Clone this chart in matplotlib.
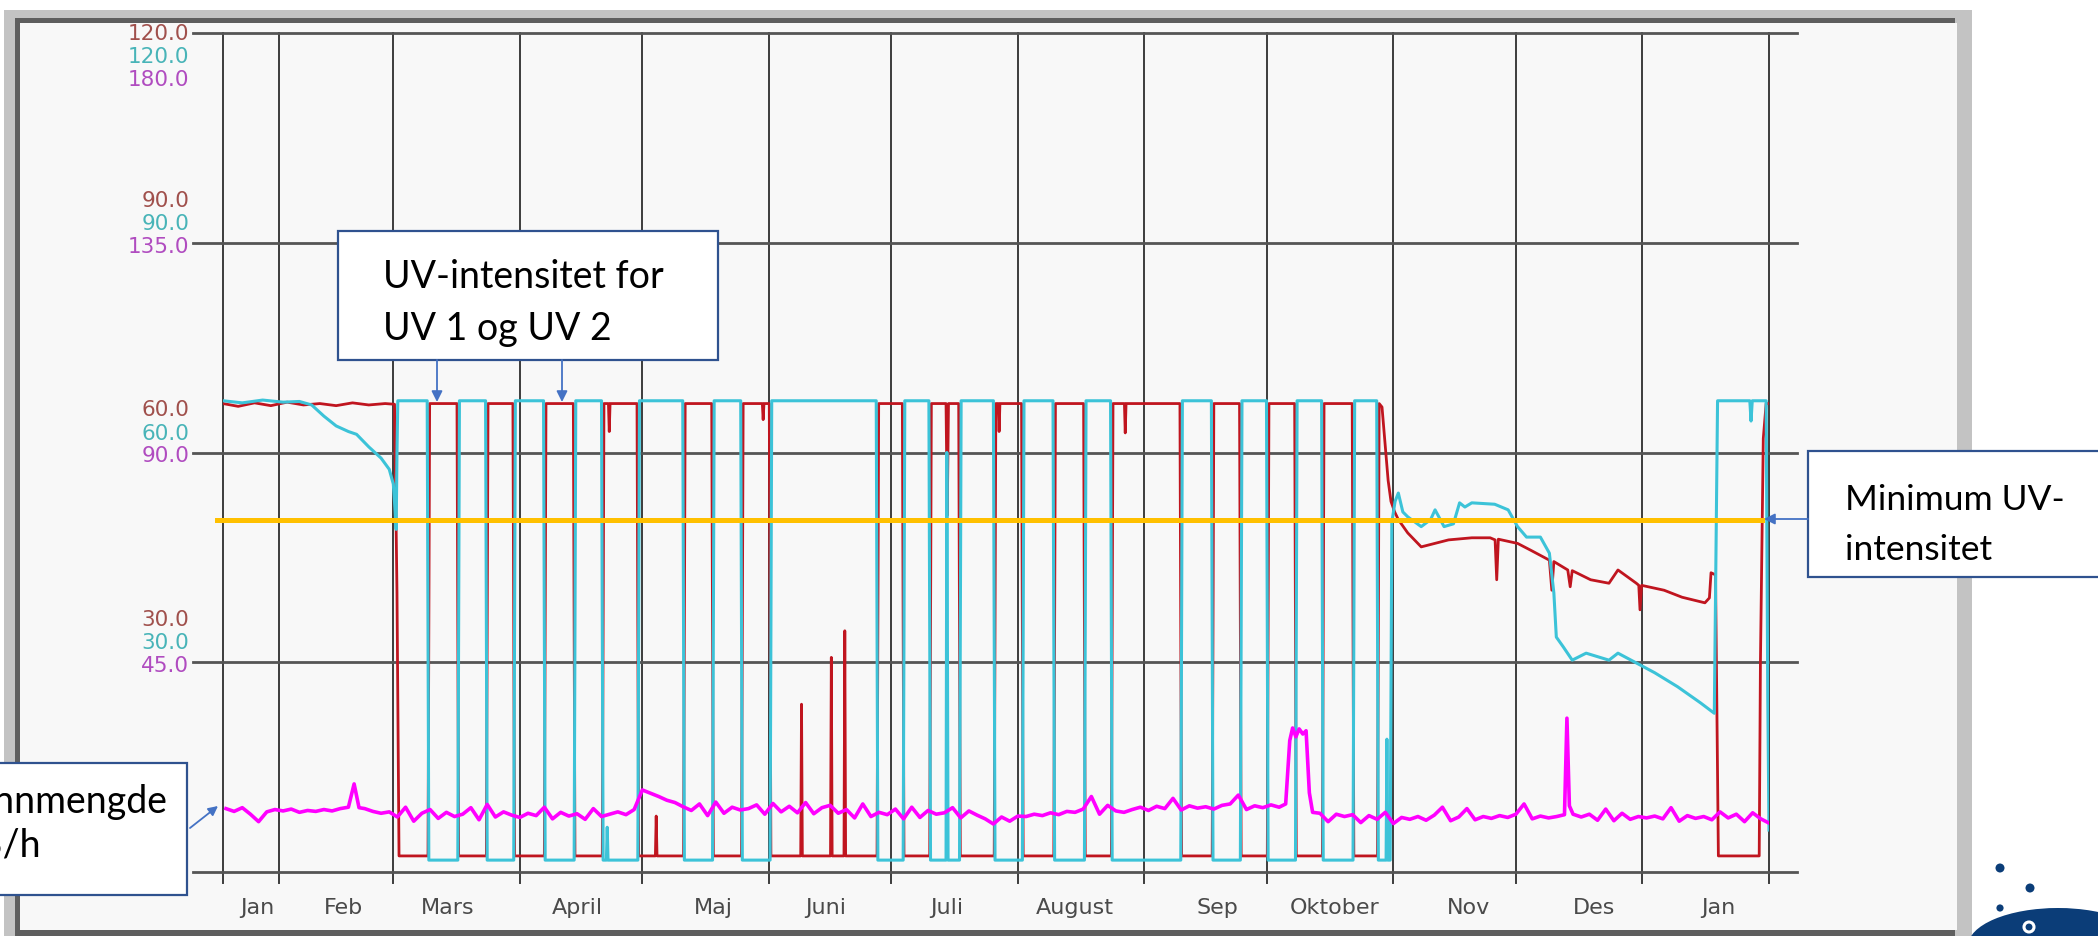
import matplotlib.pyplot as plt
from matplotlib.patches import Rectangle, Ellipse, Circle
from matplotlib.transforms import blended_transform_factory

# x = day number counted from 1 Jan (year 1), axis runs to 1 Feb (year 2)
x_start, x_end = 17.28, 396
month_lines = [17.28, 31, 59, 90, 120, 151, 181, 212, 243, 273, 304, 334, 365, 396]
month_names = ['Jan', 'Feb', 'Mars', 'April', 'Maj', 'Juni', 'Juli', 'August',
               'Sep', 'Oktober', 'Nov', 'Des', 'Jan']
month_label_pos = [25.6, 46.9, 72.4, 104.0, 137.3, 164.8, 194.6, 226.0,
                   261.0, 289.7, 322.3, 353.2, 383.5]

uv_levels = [0, 30, 60, 90, 120]          # UV 1 and UV 2 scale
flow_levels = [0, 45, 90, 135, 180]       # flow scale
min_uv = 50.4                             # orange limit line

# UV 1 (red)
red_day = [17.3, 21, 25, 29, 33, 37, 41, 45, 49, 53, 57, 59.3, 59.9, 60.4,
           67.5, 67.9, 74.6, 75.0, 81.8, 82.2, 88.3, 88.7, 96.0, 96.4, 103.1, 103.5,
           110.2, 110.6, 111.7, 111.9, 112.1, 118.7, 119.1, 123.2, 123.4, 123.6,
           130.1, 130.5, 137.0, 137.4, 144.3, 144.7, 149.4, 149.6, 149.8, 151.1, 151.5,
           158.8, 159.0, 159.2, 166.1, 166.3, 166.5, 169.4, 169.6, 169.8,
           177.5, 177.9, 183.7, 184.1, 190.4, 190.8, 194.4, 194.7, 195.0, 197.5, 197.9,
           206.2, 206.6, 207.2, 207.4, 207.6, 212.9, 213.3, 220.8, 221.2, 228.1, 228.5,
           234.9, 235.3, 238.1, 238.3, 238.5, 251.7, 252.1, 259.6, 260.0, 266.3, 266.7,
           273.1, 273.5, 279.8, 280.2, 286.6, 287.0, 293.9, 294.3, 300.1, 300.5,
           301.2, 302.0, 302.7, 303.4, 304.3, 305.2, 307.5, 310.8, 314.2, 317.5, 323.2,
           327.7, 328.9, 329.3, 329.7, 334.4, 337.7, 342.2, 342.8, 343.3, 346.7, 347.3,
           347.8, 352.3, 356.8, 359.0, 363.5, 364.1, 364.4, 364.8, 370.3, 374.7, 380.3,
           381.4, 381.8, 382.9, 383.3, 383.6, 393.6, 393.9, 394.6, 395.3, 396.0]
red_val = [67.0, 66.6, 67.1, 66.7, 67.2, 66.8, 67.0, 66.7, 67.1, 66.8, 67.0, 66.9, 40, 2.3,
           2.3, 67.0, 67.0, 2.3, 2.3, 67.0, 67.0, 2.3, 2.3, 67.0, 67.0, 2.3,
           2.3, 67.0, 67.0, 63.0, 67.0, 67.0, 2.3, 2.3, 8.0, 2.3,
           2.3, 67.0, 67.0, 2.3, 2.3, 67.0, 67.0, 64.7, 67.0, 67.0, 2.3,
           2.3, 24.0, 2.3, 2.3, 30.7, 2.3, 2.3, 34.5, 2.3,
           2.3, 67.0, 67.0, 2.3, 2.3, 67.0, 67.0, 51.0, 67.0, 67.0, 2.3,
           2.3, 67.0, 67.0, 63.0, 67.0, 67.0, 2.3, 2.3, 67.0, 67.0, 2.3,
           2.3, 67.0, 67.0, 62.8, 67.0, 67.0, 2.3, 2.3, 67.0, 67.0, 2.3,
           2.3, 67.0, 67.0, 2.3, 2.3, 67.0, 67.0, 2.3, 2.3, 67.0,
           66.5, 61.0, 56.0, 53.0, 51.5, 50.4, 48.5, 46.5, 47.0, 47.5, 47.8,
           47.8, 47.5, 41.8, 47.6, 47.0, 46.0, 44.6, 40.3, 44.4, 43.2, 40.8,
           43.1, 41.8, 41.3, 43.2, 41.3, 41.0, 37.5, 41.0, 40.3, 39.3, 38.5,
           39.2, 42.8, 42.5, 20.0, 2.3, 2.3, 30.0, 62.0, 67.0, 67.0]

# UV 2 (cyan)
cyan_day = [17.3, 22, 27, 32, 36, 39, 42, 45, 48, 50, 53, 56, 58, 59.0, 59.4, 59.7, 59.9, 60.1,
            67.3, 67.7, 74.8, 75.2, 81.6, 82.0, 88.5, 88.9, 95.8, 96.2, 103.3, 103.7,
            110.0, 110.4, 111.2, 111.4, 111.6, 118.9, 119.3, 129.9, 130.3, 137.2, 137.6,
            144.1, 144.5, 151.3, 151.7, 177.3, 177.7, 183.9, 184.3, 190.2, 190.6,
            194.4, 194.6, 194.9, 197.7, 198.1, 206.0, 206.4, 213.1, 213.5, 220.6, 221.0,
            228.3, 228.7, 234.7, 235.1, 251.9, 252.3, 259.4, 259.8, 266.5, 266.9,
            272.9, 273.3, 280.0, 280.4, 286.4, 286.8, 294.1, 294.5, 299.9, 300.3,
            302.2, 302.4, 302.6, 303.2, 303.6, 304.4, 305.2, 306.3, 307.5, 310.8, 313.1,
            314.2, 316.4, 318.7, 320.2, 321.5, 323.2, 328.8, 332.1, 334.4, 336.6, 340.0,
            342.2, 343.3, 343.9, 345.6, 347.8, 351.2, 356.8, 359.0, 363.5, 368.0, 373.6,
            379.2, 382.6, 383.0, 383.4, 391.3, 391.6, 391.9, 395.3, 395.7, 396.0]
cyan_val = [67.4, 67.1, 67.5, 67.2, 67.3, 66.8, 65.2, 63.8, 63.0, 62.6, 60.8, 59.2, 57.6, 55.5, 52, 49, 60, 67.4,
            67.4, 1.7, 1.7, 67.4, 67.4, 1.7, 1.7, 67.4, 67.4, 1.7, 1.7, 67.4,
            67.4, 1.7, 1.7, 6.4, 1.7, 1.7, 67.4, 67.4, 1.7, 1.7, 67.4,
            67.4, 1.7, 1.7, 67.4, 67.4, 1.7, 1.7, 67.4, 67.4, 1.7,
            1.7, 60.0, 1.7, 1.7, 67.4, 67.4, 1.7, 1.7, 67.4, 67.4, 1.7,
            1.7, 67.4, 67.4, 1.7, 1.7, 67.4, 67.4, 1.7, 1.7, 67.4,
            67.4, 1.7, 1.7, 67.4, 67.4, 1.7, 1.7, 67.4, 67.4, 1.7,
            1.7, 19.0, 1.7, 1.7, 50.0, 53.0, 54.2, 51.5, 50.8, 49.4, 50.4,
            51.8, 49.4, 49.8, 52.8, 52.2, 52.8, 52.6, 51.8, 49.4, 47.9, 47.9,
            45.6, 39.9, 33.6, 32.2, 30.3, 31.3, 30.3, 31.3, 29.9, 28.5, 26.5,
            24.2, 22.7, 45.0, 67.4, 67.4, 64.5, 67.4, 67.4, 25.0, 6.0]

# water flow (magenta), m3/h
flow_day = [18, 20, 22, 24, 26, 28, 30, 32, 34, 36, 38, 40, 42, 44, 46, 48, 49.4, 50.6,
            52, 54, 56, 58, 60, 62, 64, 66, 68, 70, 72, 74, 76, 78, 80, 82, 84, 86, 88,
            90, 92, 94, 96, 98, 100, 102, 104, 106, 108, 110, 112, 114, 116, 118,
            120, 122, 124, 126, 128, 130, 132, 134, 136, 138, 140, 142, 144, 146, 148,
            150, 152, 154, 156, 158, 160, 162, 164, 166, 168, 170, 172, 174, 176,
            178, 180, 182, 184, 186, 188, 190, 192, 194, 196, 198, 200, 202, 204, 206,
            208, 210, 212, 214, 216, 218, 220, 222, 224, 226, 228, 230, 232, 234, 236,
            238, 240, 242, 244, 246, 248, 250, 252, 254, 256, 258, 260, 262, 264, 266,
            268, 270, 272, 274, 276, 277.6, 278.6, 279.3, 280.1, 280.9, 281.8, 282.6,
            283.4, 284.2, 286, 288, 290, 292, 294, 296, 298, 300, 302, 304, 306, 308,
            310, 312, 314, 316, 318, 320, 322, 324, 326, 328, 330, 332, 334, 336, 338,
            340, 342, 344, 345.9, 346.5, 347.1, 348, 350, 352, 354, 356, 358, 360, 362,
            364, 366, 368, 370, 372, 374, 376, 378, 380, 382, 384, 386, 388, 390, 392,
            394, 396]
flow_val = [13.6, 13.0, 13.8, 12.4, 10.8, 12.9, 13.4, 13.1, 13.5, 12.8, 13.2, 13.0, 13.4, 13.1, 13.6, 13.9, 18.9, 13.8,
            13.6, 13.0, 12.6, 12.9, 11.8, 13.9, 10.9, 12.6, 13.4, 11.5, 12.8, 11.9, 12.4, 13.8, 11.2, 14.5, 11.8, 12.9, 12.2,
            11.7, 12.6, 12.1, 13.9, 11.4, 12.8, 12.0, 12.5, 11.3, 13.6, 11.9, 12.4, 12.9, 12.3, 13.4,
            17.6, 16.9, 16.2, 15.4, 14.9, 14.0, 13.2, 14.6, 12.1, 15.0, 12.6, 13.9, 13.3, 13.6, 14.4,
            12.4, 14.7, 12.9, 14.1, 12.7, 14.9, 12.5, 13.8, 14.3, 12.6, 13.4, 11.6, 14.6, 11.9,
            12.8, 12.3, 13.5, 11.4, 13.9, 11.7, 13.2, 12.4, 12.7, 13.8, 11.6, 13.1, 12.2, 11.4, 10.3,
            11.8, 10.9, 12.0, 11.9, 12.4, 12.1, 12.7, 12.3, 13.0, 12.8, 13.5, 16.2, 12.4, 14.3, 13.1,
            12.8, 13.4, 13.9, 13.2, 14.1, 13.6, 15.8, 13.3, 14.2, 13.7, 14.0, 13.5, 14.3, 14.6, 16.5,
            13.4, 14.2, 13.8, 14.4, 13.9, 14.6, 28.2, 30.9, 29.0, 30.7, 29.6, 30.3,
            17.0, 12.8, 12.6, 10.8, 12.4, 11.9, 12.3, 10.6, 12.1, 11.3, 12.8, 10.4, 11.7, 11.3,
            11.9, 11.1, 12.2, 13.9, 11.0, 11.8, 13.6, 11.2, 11.9, 11.5, 12.1, 11.7, 12.4, 14.6, 11.4,
            12.0, 11.6, 11.9, 12.3, 33.0, 14.2, 12.4, 11.8, 12.4, 11.1, 13.5, 11.0, 12.6, 11.3,
            11.9, 11.6, 12.0, 11.4, 13.8, 10.9, 12.1, 11.5, 11.9, 11.2, 12.9, 11.6, 12.4, 10.8, 12.7,
            11.4, 10.5]

W, H = 2098, 936
fig = plt.figure(figsize=(W / 100, H / 100), dpi=100)
fig.patch.set_facecolor('white')

# screenshot frame, in pixels
bg = fig.add_axes([0, 0, 1, 1], zorder=0)
bg.set_xlim(0, W)
bg.set_ylim(H, 0)
bg.axis('off')
bg.add_patch(Rectangle((4, 10), 1968, 930, color='#c3c3c3', lw=0))
bg.add_patch(Rectangle((15, 18), 1940, 920, color='#5e5e5e', lw=0))
bg.add_patch(Rectangle((20, 23), 1937, 907, color='#f8f8f8', lw=0))

# trend chart
ax = fig.add_axes([223 / W, 1 - 872 / H, 1546 / W, 839 / H], zorder=1)
ax.set_facecolor('none')
ax.set_xlim(x_start, x_end)
ax.set_ylim(0, 120)
ax.set_xticks([])
ax.set_yticks([])
for s in ax.spines.values():
    s.set_visible(False)

for d in month_lines:
    ax.axvline(d, ymin=-11 / 839, ymax=1, color='#3c3c3c', lw=1.4, clip_on=False, zorder=1)
for v in uv_levels:
    ax.axhline(v, xmin=-30 / 1546, xmax=1 + 28 / 1546, color='#555555', lw=2.0,
               clip_on=False, zorder=1)

ax.plot(red_day, red_val, color='#c0151f', lw=2.0, zorder=3)
ax.plot(cyan_day, cyan_val, color='#3cc3d8', lw=2.2, zorder=4)
ax.axhline(min_uv, xmin=-6 / 1546, xmax=0.9955, color='#ffc000', lw=3.6,
           clip_on=False, zorder=6)

ax2 = ax.twinx()
ax2.set_ylim(0, 180)
ax2.set_xlim(x_start, x_end)
ax2.set_yticks([])
for s in ax2.spines.values():
    s.set_visible(False)
ax2.plot(flow_day, flow_val, color='#ff00ff', lw=2.6, zorder=5)

# stacked y labels (red / cyan / magenta)
ylab = blended_transform_factory(ax.transAxes, ax.transData)
for v, f in zip(uv_levels, flow_levels):
    offs = (-1, -24, -47) if v == 120 else (42, 19, -4)
    for txt, col, dy in zip(['%.1f' % v, '%.1f' % v, '%.1f' % f],
                            ['#a0504c', '#48b4b8', '#b04cc0'], offs):
        ax.annotate(txt, xy=(0, v), xycoords=ylab, xytext=(-34, dy),
                    textcoords='offset pixels', ha='right', va='center',
                    fontsize=15.5, color=col, family='DejaVu Sans')

xlab = blended_transform_factory(ax.transData, ax.transAxes)
for d, name in zip(month_label_pos, month_names):
    ax.text(d, -0.043, name, transform=xlab, ha='center', va='center',
            fontsize=16, color='#4a4a4a', family='DejaVu Sans')

# callouts, in pixels
fg = fig.add_axes([0, 0, 1, 1], zorder=3)
fg.set_xlim(0, W)
fg.set_ylim(H, 0)
fg.axis('off')
fg.patch.set_alpha(0)

box_ec = '#2f528f'
arrow_c = '#4472c4'
font = dict(family='Lato', fontsize=27, color='black', va='baseline', ha='left')

fg.add_patch(Rectangle((338, 231), 380, 129, fc='white', ec=box_ec, lw=1.6))
fg.text(383, 288, 'UV-intensitet for', **font)
fg.text(383, 340, 'UV 1 og UV 2', **font)
for xa in (437, 562):
    fg.annotate('', xy=(xa, 402), xytext=(xa, 360),
                arrowprops=dict(arrowstyle='-|>', color=arrow_c, lw=1.3,
                                mutation_scale=16, shrinkA=0, shrinkB=0))

fg.add_patch(Rectangle((1808, 451), 320, 126, fc='white', ec=box_ec, lw=1.6))
fg.text(1845, 510, 'Minimum UV-', **dict(font, fontsize=25.5))
fg.text(1845, 560, 'intensitet', **dict(font, fontsize=25.5))
fg.annotate('', xy=(1764, 519), xytext=(1808, 519),
            arrowprops=dict(arrowstyle='-|>', color=arrow_c, lw=1.3,
                            mutation_scale=16, shrinkA=0, shrinkB=0))

fg.add_patch(Rectangle((-60, 763), 247, 132, fc='white', ec=box_ec, lw=1.6))
fg.text(-50, 813, 'Vannmengde', **font)
fg.text(-50, 857, 'm3/h', **font)
fg.annotate('', xy=(218, 806), xytext=(190, 828),
            arrowprops=dict(arrowstyle='-|>', color=arrow_c, lw=1.3,
                            mutation_scale=14, shrinkA=0, shrinkB=0))

# logo corner
navy = '#0b3d78'
fg.add_patch(Ellipse((2058, 946), 180, 76, color=navy, lw=0))
fg.add_patch(Circle((2000, 868), 4.5, color=navy, lw=0))
fg.add_patch(Circle((2030, 888), 4.5, color=navy, lw=0))
fg.add_patch(Circle((2000, 908), 5, fc=navy, ec='white', lw=2))
fg.add_patch(Circle((2029, 927), 5, fc=navy, ec='white', lw=2.2))

fig.savefig('out.png', dpi=100)
